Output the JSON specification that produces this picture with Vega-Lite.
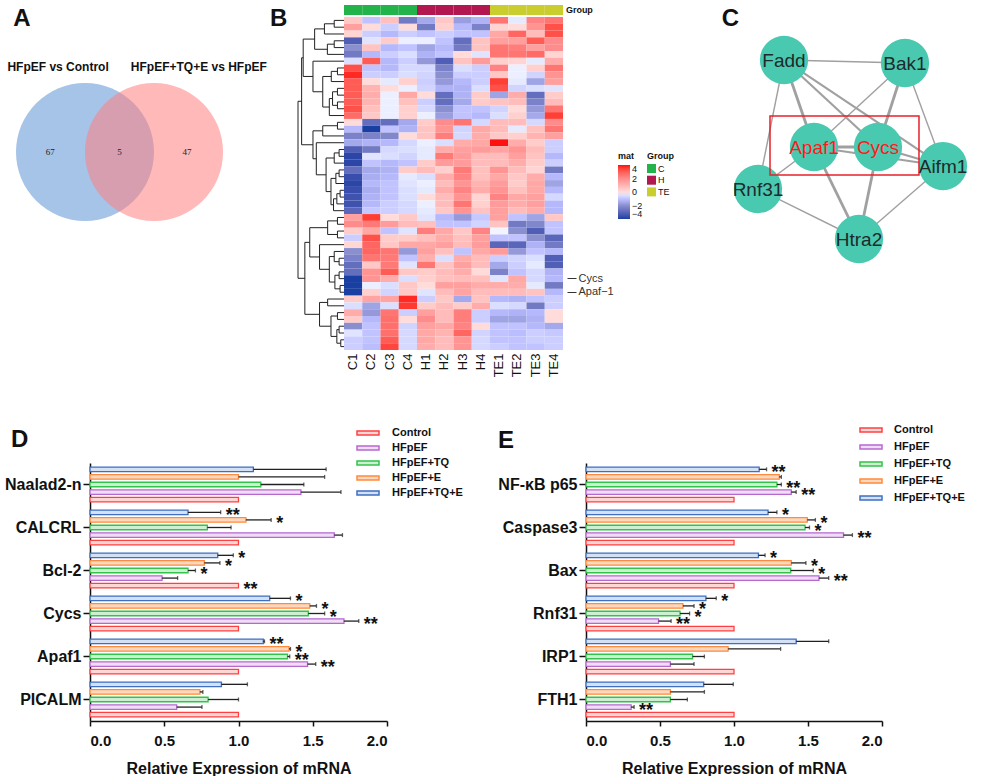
{
"$schema":"https://vega.github.io/schema/vega-lite/v6.json",
"background":"white",
"padding":{"left":4,"top":5,"right":0,"bottom":0},
"config":{"view":{"stroke":null},"font":"Liberation Sans","axis":{"labelFont":"Liberation Sans","titleFont":"Liberation Sans","grid":false},"legend":{"labelFont":"Liberation Sans","titleFont":"Liberation Sans"},"text":{"font":"Liberation Sans"},"title":{"font":"Liberation Sans"}},
"datasets":{
"hm":[
{"r":1,"c":"C1","v":0.5},{"r":1,"c":"C2","v":-1},{"r":1,"c":"C3","v":0.7},{"r":1,"c":"C4","v":-2.5},{"r":1,"c":"H1","v":-1.5},{"r":1,"c":"H2","v":0.5},{"r":1,"c":"H3","v":-1.7},{"r":1,"c":"H4","v":-1.3},{"r":1,"c":"TE1","v":2.5},{"r":1,"c":"TE2","v":-0.3},{"r":1,"c":"TE3","v":2.2},{"r":1,"c":"TE4","v":2.5},
{"r":2,"c":"C1","v":1.5},{"r":2,"c":"C2","v":0},{"r":2,"c":"C3","v":-0.8},{"r":2,"c":"C4","v":0},{"r":2,"c":"H1","v":-2.5},{"r":2,"c":"H2","v":0.3},{"r":2,"c":"H3","v":-1.2},{"r":2,"c":"H4","v":-2.3},{"r":2,"c":"TE1","v":0.2},{"r":2,"c":"TE2","v":0},{"r":2,"c":"TE3","v":1.8},{"r":2,"c":"TE4","v":3.2},
{"r":3,"c":"C1","v":0.2},{"r":3,"c":"C2","v":-0.8},{"r":3,"c":"C3","v":-1.2},{"r":3,"c":"C4","v":-0.8},{"r":3,"c":"H1","v":-1},{"r":3,"c":"H2","v":-0.8},{"r":3,"c":"H3","v":-1},{"r":3,"c":"H4","v":-1},{"r":3,"c":"TE1","v":1.3},{"r":3,"c":"TE2","v":2.8},{"r":3,"c":"TE3","v":0.8},{"r":3,"c":"TE4","v":3.2},
{"r":4,"c":"C1","v":-3.2},{"r":4,"c":"C2","v":-0.4},{"r":4,"c":"C3","v":0.4},{"r":4,"c":"C4","v":-0.2},{"r":4,"c":"H1","v":-0.2},{"r":4,"c":"H2","v":-1},{"r":4,"c":"H3","v":-2.8},{"r":4,"c":"H4","v":0.6},{"r":4,"c":"TE1","v":1.5},{"r":4,"c":"TE2","v":1.5},{"r":4,"c":"TE3","v":3},{"r":4,"c":"TE4","v":2},
{"r":5,"c":"C1","v":-2},{"r":5,"c":"C2","v":0.6},{"r":5,"c":"C3","v":-1.2},{"r":5,"c":"C4","v":-1},{"r":5,"c":"H1","v":-1.6},{"r":5,"c":"H2","v":-1.2},{"r":5,"c":"H3","v":-2.5},{"r":5,"c":"H4","v":0.6},{"r":5,"c":"TE1","v":2.5},{"r":5,"c":"TE2","v":2.3},{"r":5,"c":"TE3","v":1.5},{"r":5,"c":"TE4","v":2},
{"r":6,"c":"C1","v":-2.5},{"r":6,"c":"C2","v":-1.2},{"r":6,"c":"C3","v":-0.8},{"r":6,"c":"C4","v":-0.5},{"r":6,"c":"H1","v":-1.3},{"r":6,"c":"H2","v":-1},{"r":6,"c":"H3","v":0},{"r":6,"c":"H4","v":-0.4},{"r":6,"c":"TE1","v":2.5},{"r":6,"c":"TE2","v":2.5},{"r":6,"c":"TE3","v":2.7},{"r":6,"c":"TE4","v":0.2},
{"r":7,"c":"C1","v":-0.5},{"r":7,"c":"C2","v":3},{"r":7,"c":"C3","v":-1.2},{"r":7,"c":"C4","v":-0.8},{"r":7,"c":"H1","v":-1.8},{"r":7,"c":"H2","v":-3.2},{"r":7,"c":"H3","v":0.6},{"r":7,"c":"H4","v":1.6},{"r":7,"c":"TE1","v":0.3},{"r":7,"c":"TE2","v":0.2},{"r":7,"c":"TE3","v":-0.3},{"r":7,"c":"TE4","v":1.2},
{"r":8,"c":"C1","v":3.2},{"r":8,"c":"C2","v":-1},{"r":8,"c":"C3","v":-1.2},{"r":8,"c":"C4","v":-0.6},{"r":8,"c":"H1","v":-0.6},{"r":8,"c":"H2","v":-2.3},{"r":8,"c":"H3","v":-0.5},{"r":8,"c":"H4","v":-0.8},{"r":8,"c":"TE1","v":2.2},{"r":8,"c":"TE2","v":-0.2},{"r":8,"c":"TE3","v":0.3},{"r":8,"c":"TE4","v":2.5},
{"r":9,"c":"C1","v":3.8},{"r":9,"c":"C2","v":-0.8},{"r":9,"c":"C3","v":-0.8},{"r":9,"c":"C4","v":-0.5},{"r":9,"c":"H1","v":-0.7},{"r":9,"c":"H2","v":-2},{"r":9,"c":"H3","v":-0.8},{"r":9,"c":"H4","v":-0.8},{"r":9,"c":"TE1","v":0.5},{"r":9,"c":"TE2","v":-0.2},{"r":9,"c":"TE3","v":-0.7},{"r":9,"c":"TE4","v":1.8},
{"r":10,"c":"C1","v":3},{"r":10,"c":"C2","v":0},{"r":10,"c":"C3","v":-0.3},{"r":10,"c":"C4","v":0.3},{"r":10,"c":"H1","v":-0.8},{"r":10,"c":"H2","v":-1.8},{"r":10,"c":"H3","v":-1.2},{"r":10,"c":"H4","v":-0.8},{"r":10,"c":"TE1","v":3.5},{"r":10,"c":"TE2","v":-0.3},{"r":10,"c":"TE3","v":-1.6},{"r":10,"c":"TE4","v":1.5},
{"r":11,"c":"C1","v":3},{"r":11,"c":"C2","v":1},{"r":11,"c":"C3","v":0},{"r":11,"c":"C4","v":-0.2},{"r":11,"c":"H1","v":-0.7},{"r":11,"c":"H2","v":-1.3},{"r":11,"c":"H3","v":-1.3},{"r":11,"c":"H4","v":-0.5},{"r":11,"c":"TE1","v":3.2},{"r":11,"c":"TE2","v":-0.7},{"r":11,"c":"TE3","v":-0.5},{"r":11,"c":"TE4","v":-0.4},
{"r":12,"c":"C1","v":3},{"r":12,"c":"C2","v":1.2},{"r":12,"c":"C3","v":-0.2},{"r":12,"c":"C4","v":1.3},{"r":12,"c":"H1","v":0},{"r":12,"c":"H2","v":-2.8},{"r":12,"c":"H3","v":-1.3},{"r":12,"c":"H4","v":0.4},{"r":12,"c":"TE1","v":-1.6},{"r":12,"c":"TE2","v":1.2},{"r":12,"c":"TE3","v":-2.8},{"r":12,"c":"TE4","v":0.4},
{"r":13,"c":"C1","v":3},{"r":13,"c":"C2","v":1},{"r":13,"c":"C3","v":-0.2},{"r":13,"c":"C4","v":0.7},{"r":13,"c":"H1","v":-0.8},{"r":13,"c":"H2","v":-2.8},{"r":13,"c":"H3","v":-1.5},{"r":13,"c":"H4","v":0.4},{"r":13,"c":"TE1","v":0.6},{"r":13,"c":"TE2","v":0.8},{"r":13,"c":"TE3","v":-2.3},{"r":13,"c":"TE4","v":0.8},
{"r":14,"c":"C1","v":3.2},{"r":14,"c":"C2","v":0.7},{"r":14,"c":"C3","v":-0.2},{"r":14,"c":"C4","v":0.3},{"r":14,"c":"H1","v":-0.6},{"r":14,"c":"H2","v":-2},{"r":14,"c":"H3","v":-1},{"r":14,"c":"H4","v":-1},{"r":14,"c":"TE1","v":-0.7},{"r":14,"c":"TE2","v":0},{"r":14,"c":"TE3","v":-1.8},{"r":14,"c":"TE4","v":2.5},
{"r":15,"c":"C1","v":2.7},{"r":15,"c":"C2","v":0.5},{"r":15,"c":"C3","v":-0.2},{"r":15,"c":"C4","v":0.3},{"r":15,"c":"H1","v":-0.2},{"r":15,"c":"H2","v":-1.7},{"r":15,"c":"H3","v":-1},{"r":15,"c":"H4","v":-1.2},{"r":15,"c":"TE1","v":-0.5},{"r":15,"c":"TE2","v":0.3},{"r":15,"c":"TE3","v":-1.5},{"r":15,"c":"TE4","v":3.5},
{"r":16,"c":"C1","v":0},{"r":16,"c":"C2","v":-2.8},{"r":16,"c":"C3","v":-2.8},{"r":16,"c":"C4","v":-1.5},{"r":16,"c":"H1","v":0.4},{"r":16,"c":"H2","v":2},{"r":16,"c":"H3","v":2.5},{"r":16,"c":"H4","v":-0.6},{"r":16,"c":"TE1","v":0.8},{"r":16,"c":"TE2","v":0.8},{"r":16,"c":"TE3","v":-0.6},{"r":16,"c":"TE4","v":2},
{"r":17,"c":"C1","v":-1.2},{"r":17,"c":"C2","v":-4},{"r":17,"c":"C3","v":-1},{"r":17,"c":"C4","v":-1.3},{"r":17,"c":"H1","v":0.6},{"r":17,"c":"H2","v":1.8},{"r":17,"c":"H3","v":-0.7},{"r":17,"c":"H4","v":1.3},{"r":17,"c":"TE1","v":0.8},{"r":17,"c":"TE2","v":-0.3},{"r":17,"c":"TE3","v":0.7},{"r":17,"c":"TE4","v":2.5},
{"r":18,"c":"C1","v":-2.3},{"r":18,"c":"C2","v":-2.3},{"r":18,"c":"C3","v":-2.2},{"r":18,"c":"C4","v":0},{"r":18,"c":"H1","v":0.6},{"r":18,"c":"H2","v":2.3},{"r":18,"c":"H3","v":-0.6},{"r":18,"c":"H4","v":1.2},{"r":18,"c":"TE1","v":0.5},{"r":18,"c":"TE2","v":0.3},{"r":18,"c":"TE3","v":1},{"r":18,"c":"TE4","v":1.5},
{"r":19,"c":"C1","v":-1.5},{"r":19,"c":"C2","v":-1.3},{"r":19,"c":"C3","v":-1.2},{"r":19,"c":"C4","v":-0.6},{"r":19,"c":"H1","v":-0.2},{"r":19,"c":"H2","v":-0.5},{"r":19,"c":"H3","v":1.2},{"r":19,"c":"H4","v":1.3},{"r":19,"c":"TE1","v":4},{"r":19,"c":"TE2","v":1.2},{"r":19,"c":"TE3","v":0.4},{"r":19,"c":"TE4","v":-0.8},
{"r":20,"c":"C1","v":-3.2},{"r":20,"c":"C2","v":-2.5},{"r":20,"c":"C3","v":-0.6},{"r":20,"c":"C4","v":-0.5},{"r":20,"c":"H1","v":-0.3},{"r":20,"c":"H2","v":1.2},{"r":20,"c":"H3","v":1.5},{"r":20,"c":"H4","v":1.6},{"r":20,"c":"TE1","v":1.4},{"r":20,"c":"TE2","v":1.8},{"r":20,"c":"TE3","v":0.8},{"r":20,"c":"TE4","v":-0.8},
{"r":21,"c":"C1","v":-3.8},{"r":21,"c":"C2","v":-0.4},{"r":21,"c":"C3","v":-0.5},{"r":21,"c":"C4","v":-0.7},{"r":21,"c":"H1","v":-0.3},{"r":21,"c":"H2","v":2.4},{"r":21,"c":"H3","v":1.6},{"r":21,"c":"H4","v":0.8},{"r":21,"c":"TE1","v":0.8},{"r":21,"c":"TE2","v":1.5},{"r":21,"c":"TE3","v":0.6},{"r":21,"c":"TE4","v":-1.2},
{"r":22,"c":"C1","v":-3.8},{"r":22,"c":"C2","v":-1},{"r":22,"c":"C3","v":-1.2},{"r":22,"c":"C4","v":-1},{"r":22,"c":"H1","v":0.4},{"r":22,"c":"H2","v":1.6},{"r":22,"c":"H3","v":1.6},{"r":22,"c":"H4","v":0.8},{"r":22,"c":"TE1","v":0.8},{"r":22,"c":"TE2","v":1.2},{"r":22,"c":"TE3","v":0.4},{"r":22,"c":"TE4","v":-0.8},
{"r":23,"c":"C1","v":-2.8},{"r":23,"c":"C2","v":-1.5},{"r":23,"c":"C3","v":-1.3},{"r":23,"c":"C4","v":0.4},{"r":23,"c":"H1","v":0.8},{"r":23,"c":"H2","v":0.3},{"r":23,"c":"H3","v":2.4},{"r":23,"c":"H4","v":0.7},{"r":23,"c":"TE1","v":1.8},{"r":23,"c":"TE2","v":0.8},{"r":23,"c":"TE3","v":0.2},{"r":23,"c":"TE4","v":-2.5},
{"r":24,"c":"C1","v":-3.6},{"r":24,"c":"C2","v":-1.4},{"r":24,"c":"C3","v":-1.2},{"r":24,"c":"C4","v":-0.3},{"r":24,"c":"H1","v":-0.5},{"r":24,"c":"H2","v":1.2},{"r":24,"c":"H3","v":2.2},{"r":24,"c":"H4","v":0.7},{"r":24,"c":"TE1","v":1.3},{"r":24,"c":"TE2","v":0.5},{"r":24,"c":"TE3","v":1.2},{"r":24,"c":"TE4","v":-1.2},
{"r":25,"c":"C1","v":-3.8},{"r":25,"c":"C2","v":-1.2},{"r":25,"c":"C3","v":-1},{"r":25,"c":"C4","v":-0.4},{"r":25,"c":"H1","v":-0.2},{"r":25,"c":"H2","v":0.8},{"r":25,"c":"H3","v":1.8},{"r":25,"c":"H4","v":1},{"r":25,"c":"TE1","v":1.6},{"r":25,"c":"TE2","v":0.4},{"r":25,"c":"TE3","v":1.3},{"r":25,"c":"TE4","v":-1.6},
{"r":26,"c":"C1","v":-3.6},{"r":26,"c":"C2","v":-1.4},{"r":26,"c":"C3","v":-1},{"r":26,"c":"C4","v":-0.5},{"r":26,"c":"H1","v":-0.3},{"r":26,"c":"H2","v":1.2},{"r":26,"c":"H3","v":2.2},{"r":26,"c":"H4","v":1.2},{"r":26,"c":"TE1","v":1.8},{"r":26,"c":"TE2","v":0.7},{"r":26,"c":"TE3","v":1.3},{"r":26,"c":"TE4","v":-1.2},
{"r":27,"c":"C1","v":-3.5},{"r":27,"c":"C2","v":-1.3},{"r":27,"c":"C3","v":-1},{"r":27,"c":"C4","v":-0.5},{"r":27,"c":"H1","v":0},{"r":27,"c":"H2","v":0.8},{"r":27,"c":"H3","v":1.8},{"r":27,"c":"H4","v":0.2},{"r":27,"c":"TE1","v":2.2},{"r":27,"c":"TE2","v":1.3},{"r":27,"c":"TE3","v":1.5},{"r":27,"c":"TE4","v":-0.6},
{"r":28,"c":"C1","v":-3.5},{"r":28,"c":"C2","v":-1.2},{"r":28,"c":"C3","v":-0.8},{"r":28,"c":"C4","v":-0.6},{"r":28,"c":"H1","v":-0.2},{"r":28,"c":"H2","v":0.8},{"r":28,"c":"H3","v":2.5},{"r":28,"c":"H4","v":0.3},{"r":28,"c":"TE1","v":1.6},{"r":28,"c":"TE2","v":1.2},{"r":28,"c":"TE3","v":1.5},{"r":28,"c":"TE4","v":-1.2},
{"r":29,"c":"C1","v":-3},{"r":29,"c":"C2","v":-0.9},{"r":29,"c":"C3","v":-0.8},{"r":29,"c":"C4","v":-0.6},{"r":29,"c":"H1","v":-0.3},{"r":29,"c":"H2","v":0.5},{"r":29,"c":"H3","v":1.8},{"r":29,"c":"H4","v":0.6},{"r":29,"c":"TE1","v":1.5},{"r":29,"c":"TE2","v":0.8},{"r":29,"c":"TE3","v":1.2},{"r":29,"c":"TE4","v":-1.2},
{"r":30,"c":"C1","v":1.5},{"r":30,"c":"C2","v":3.5},{"r":30,"c":"C3","v":0},{"r":30,"c":"C4","v":0.5},{"r":30,"c":"H1","v":-0.4},{"r":30,"c":"H2","v":-1.2},{"r":30,"c":"H3","v":-1.8},{"r":30,"c":"H4","v":-0.9},{"r":30,"c":"TE1","v":1.5},{"r":30,"c":"TE2","v":-1},{"r":30,"c":"TE3","v":-1.6},{"r":30,"c":"TE4","v":0.5},
{"r":31,"c":"C1","v":2},{"r":31,"c":"C2","v":2.4},{"r":31,"c":"C3","v":1.6},{"r":31,"c":"C4","v":0.8},{"r":31,"c":"H1","v":0.7},{"r":31,"c":"H2","v":-1},{"r":31,"c":"H3","v":-1},{"r":31,"c":"H4","v":-0.7},{"r":31,"c":"TE1","v":0.6},{"r":31,"c":"TE2","v":-2.5},{"r":31,"c":"TE3","v":-2.2},{"r":31,"c":"TE4","v":-1},
{"r":32,"c":"C1","v":0.4},{"r":32,"c":"C2","v":1.3},{"r":32,"c":"C3","v":-1},{"r":32,"c":"C4","v":-0.4},{"r":32,"c":"H1","v":2.3},{"r":32,"c":"H2","v":1.3},{"r":32,"c":"H3","v":0.5},{"r":32,"c":"H4","v":2.2},{"r":32,"c":"TE1","v":-0.1},{"r":32,"c":"TE2","v":-2},{"r":32,"c":"TE3","v":-3.2},{"r":32,"c":"TE4","v":-1},
{"r":33,"c":"C1","v":-0.8},{"r":33,"c":"C2","v":3.2},{"r":33,"c":"C3","v":0.4},{"r":33,"c":"C4","v":0.4},{"r":33,"c":"H1","v":0.7},{"r":33,"c":"H2","v":1.2},{"r":33,"c":"H3","v":0.7},{"r":33,"c":"H4","v":1.5},{"r":33,"c":"TE1","v":-1},{"r":33,"c":"TE2","v":-1},{"r":33,"c":"TE3","v":-2},{"r":33,"c":"TE4","v":-3},
{"r":34,"c":"C1","v":0.1},{"r":34,"c":"C2","v":2.8},{"r":34,"c":"C3","v":0.5},{"r":34,"c":"C4","v":1.3},{"r":34,"c":"H1","v":1.3},{"r":34,"c":"H2","v":1.5},{"r":34,"c":"H3","v":0.8},{"r":34,"c":"H4","v":1.6},{"r":34,"c":"TE1","v":-3},{"r":34,"c":"TE2","v":-3},{"r":34,"c":"TE3","v":-1.3},{"r":34,"c":"TE4","v":-2.5},
{"r":35,"c":"C1","v":-2},{"r":35,"c":"C2","v":2.8},{"r":35,"c":"C3","v":2.5},{"r":35,"c":"C4","v":-1.8},{"r":35,"c":"H1","v":1.5},{"r":35,"c":"H2","v":0.7},{"r":35,"c":"H3","v":-1},{"r":35,"c":"H4","v":1.3},{"r":35,"c":"TE1","v":1.6},{"r":35,"c":"TE2","v":-1.8},{"r":35,"c":"TE3","v":-1},{"r":35,"c":"TE4","v":-1.2},
{"r":36,"c":"C1","v":-2.3},{"r":36,"c":"C2","v":2.5},{"r":36,"c":"C3","v":2.4},{"r":36,"c":"C4","v":-1},{"r":36,"c":"H1","v":1.1},{"r":36,"c":"H2","v":-0.5},{"r":36,"c":"H3","v":1.2},{"r":36,"c":"H4","v":0.8},{"r":36,"c":"TE1","v":-0.8},{"r":36,"c":"TE2","v":-0.7},{"r":36,"c":"TE3","v":-0.5},{"r":36,"c":"TE4","v":-3.2},
{"r":37,"c":"C1","v":-2.8},{"r":37,"c":"C2","v":0.5},{"r":37,"c":"C3","v":2.4},{"r":37,"c":"C4","v":-0.4},{"r":37,"c":"H1","v":2.5},{"r":37,"c":"H2","v":0.6},{"r":37,"c":"H3","v":1.5},{"r":37,"c":"H4","v":0.8},{"r":37,"c":"TE1","v":-1.5},{"r":37,"c":"TE2","v":-0.8},{"r":37,"c":"TE3","v":-0.3},{"r":37,"c":"TE4","v":-3.2},
{"r":38,"c":"C1","v":-2.8},{"r":38,"c":"C2","v":1.8},{"r":38,"c":"C3","v":3},{"r":38,"c":"C4","v":0.5},{"r":38,"c":"H1","v":0.4},{"r":38,"c":"H2","v":0.8},{"r":38,"c":"H3","v":1.2},{"r":38,"c":"H4","v":0},{"r":38,"c":"TE1","v":-2.3},{"r":38,"c":"TE2","v":-1},{"r":38,"c":"TE3","v":-0.6},{"r":38,"c":"TE4","v":-1.3},
{"r":39,"c":"C1","v":-4},{"r":39,"c":"C2","v":1.8},{"r":39,"c":"C3","v":1.2},{"r":39,"c":"C4","v":-0.5},{"r":39,"c":"H1","v":0.3},{"r":39,"c":"H2","v":0.7},{"r":39,"c":"H3","v":0.8},{"r":39,"c":"H4","v":0.7},{"r":39,"c":"TE1","v":-0.4},{"r":39,"c":"TE2","v":1.3},{"r":39,"c":"TE3","v":-0.6},{"r":39,"c":"TE4","v":-1.2},
{"r":40,"c":"C1","v":-4},{"r":40,"c":"C2","v":-0.2},{"r":40,"c":"C3","v":-0.5},{"r":40,"c":"C4","v":0.5},{"r":40,"c":"H1","v":0},{"r":40,"c":"H2","v":1.5},{"r":40,"c":"H3","v":1.5},{"r":40,"c":"H4","v":1.2},{"r":40,"c":"TE1","v":1.2},{"r":40,"c":"TE2","v":1.2},{"r":40,"c":"TE3","v":-0.3},{"r":40,"c":"TE4","v":-2.5},
{"r":41,"c":"C1","v":-4},{"r":41,"c":"C2","v":0.3},{"r":41,"c":"C3","v":-0.7},{"r":41,"c":"C4","v":0.5},{"r":41,"c":"H1","v":-0.4},{"r":41,"c":"H2","v":0.8},{"r":41,"c":"H3","v":1.4},{"r":41,"c":"H4","v":0.8},{"r":41,"c":"TE1","v":0.8},{"r":41,"c":"TE2","v":0.8},{"r":41,"c":"TE3","v":0.6},{"r":41,"c":"TE4","v":-1.2},
{"r":42,"c":"C1","v":0.4},{"r":42,"c":"C2","v":1.4},{"r":42,"c":"C3","v":1.4},{"r":42,"c":"C4","v":3.8},{"r":42,"c":"H1","v":-0.8},{"r":42,"c":"H2","v":0.5},{"r":42,"c":"H3","v":-1.5},{"r":42,"c":"H4","v":0.6},{"r":42,"c":"TE1","v":-1.2},{"r":42,"c":"TE2","v":-1.3},{"r":42,"c":"TE3","v":-1},{"r":42,"c":"TE4","v":-0.8},
{"r":43,"c":"C1","v":-0.5},{"r":43,"c":"C2","v":-1.6},{"r":43,"c":"C3","v":-0.5},{"r":43,"c":"C4","v":3.6},{"r":43,"c":"H1","v":0.4},{"r":43,"c":"H2","v":0.8},{"r":43,"c":"H3","v":0.4},{"r":43,"c":"H4","v":1.2},{"r":43,"c":"TE1","v":-0.5},{"r":43,"c":"TE2","v":-0.6},{"r":43,"c":"TE3","v":-2.5},{"r":43,"c":"TE4","v":-0.8},
{"r":44,"c":"C1","v":1.2},{"r":44,"c":"C2","v":-1.8},{"r":44,"c":"C3","v":2.5},{"r":44,"c":"C4","v":-0.8},{"r":44,"c":"H1","v":1.5},{"r":44,"c":"H2","v":0.8},{"r":44,"c":"H3","v":2.3},{"r":44,"c":"H4","v":-0.8},{"r":44,"c":"TE1","v":-1.2},{"r":44,"c":"TE2","v":-1.3},{"r":44,"c":"TE3","v":-1.2},{"r":44,"c":"TE4","v":0},
{"r":45,"c":"C1","v":0.4},{"r":45,"c":"C2","v":-1.2},{"r":45,"c":"C3","v":2.6},{"r":45,"c":"C4","v":0},{"r":45,"c":"H1","v":2},{"r":45,"c":"H2","v":0.8},{"r":45,"c":"H3","v":2.3},{"r":45,"c":"H4","v":-0.8},{"r":45,"c":"TE1","v":-1.6},{"r":45,"c":"TE2","v":-1.6},{"r":45,"c":"TE3","v":-1.3},{"r":45,"c":"TE4","v":0},
{"r":46,"c":"C1","v":-2},{"r":46,"c":"C2","v":-1},{"r":46,"c":"C3","v":2.6},{"r":46,"c":"C4","v":-0.7},{"r":46,"c":"H1","v":1.5},{"r":46,"c":"H2","v":1.3},{"r":46,"c":"H3","v":2.2},{"r":46,"c":"H4","v":0},{"r":46,"c":"TE1","v":-1},{"r":46,"c":"TE2","v":-1},{"r":46,"c":"TE3","v":-1.2},{"r":46,"c":"TE4","v":-1.5},
{"r":47,"c":"C1","v":-0.4},{"r":47,"c":"C2","v":-1},{"r":47,"c":"C3","v":2.6},{"r":47,"c":"C4","v":-0.6},{"r":47,"c":"H1","v":1.3},{"r":47,"c":"H2","v":1},{"r":47,"c":"H3","v":2.8},{"r":47,"c":"H4","v":-0.7},{"r":47,"c":"TE1","v":-1},{"r":47,"c":"TE2","v":-1.1},{"r":47,"c":"TE3","v":-0.8},{"r":47,"c":"TE4","v":-0.9},
{"r":48,"c":"C1","v":-0.8},{"r":48,"c":"C2","v":-1},{"r":48,"c":"C3","v":3},{"r":48,"c":"C4","v":-0.6},{"r":48,"c":"H1","v":1.3},{"r":48,"c":"H2","v":0.8},{"r":48,"c":"H3","v":1.8},{"r":48,"c":"H4","v":-0.6},{"r":48,"c":"TE1","v":-1},{"r":48,"c":"TE2","v":-1},{"r":48,"c":"TE3","v":-0.8},{"r":48,"c":"TE4","v":-0.8},
{"r":49,"c":"C1","v":-0.8},{"r":49,"c":"C2","v":-1.1},{"r":49,"c":"C3","v":3.4},{"r":49,"c":"C4","v":-0.6},{"r":49,"c":"H1","v":1.2},{"r":49,"c":"H2","v":0.8},{"r":49,"c":"H3","v":1.8},{"r":49,"c":"H4","v":-0.6},{"r":49,"c":"TE1","v":-0.8},{"r":49,"c":"TE2","v":-1},{"r":49,"c":"TE3","v":-1},{"r":49,"c":"TE4","v":-0.8}
],
"grp":[{"c":"C1","g":"C"},{"c":"C2","g":"C"},{"c":"C3","g":"C"},{"c":"C4","g":"C"},{"c":"H1","g":"H"},{"c":"H2","g":"H"},{"c":"H3","g":"H"},{"c":"H4","g":"H"},{"c":"TE1","g":"TE"},{"c":"TE2","g":"TE"},{"c":"TE3","g":"TE"},{"c":"TE4","g":"TE"}],
"dendro":[
{"ya":1,"ha":0,"yb":2,"hb":0,"h":10},{"ya":1.5,"ha":10,"yb":3,"hb":0,"h":20},{"ya":4,"ha":0,"yb":5,"hb":0,"h":10},{"ya":4.5,"ha":10,"yb":6,"hb":0,"h":17},{"ya":2.25,"ha":20,"yb":5.25,"hb":17,"h":30},
{"ya":8,"ha":0,"yb":9,"hb":0,"h":6.7},{"ya":8.5,"ha":6.7,"yb":10,"hb":0,"h":13},{"ya":11,"ha":0,"yb":12,"hb":0,"h":6.7},{"ya":13,"ha":0,"yb":14,"hb":0,"h":6.7},{"ya":11.5,"ha":6.7,"yb":13.5,"hb":6.7,"h":11.7},
{"ya":12.5,"ha":11.7,"yb":15,"hb":0,"h":15},{"ya":9.25,"ha":13,"yb":13.75,"hb":15,"h":21.7},{"ya":7,"ha":0,"yb":11.5,"hb":21.7,"h":31.7},{"ya":3.75,"ha":30,"yb":9.25,"hb":31.7,"h":41.7},
{"ya":16,"ha":0,"yb":17,"hb":0,"h":6.7},{"ya":16.5,"ha":6.7,"yb":18,"hb":0,"h":21.7},{"ya":20,"ha":0,"yb":21,"hb":0,"h":5},{"ya":20.5,"ha":5,"yb":22,"hb":0,"h":10},{"ya":23,"ha":0,"yb":24,"hb":0,"h":5},
{"ya":23.5,"ha":5,"yb":25,"hb":0,"h":8.3},{"ya":26,"ha":0,"yb":27,"hb":0,"h":4},{"ya":26.5,"ha":4,"yb":28,"hb":0,"h":7.3},{"ya":27.25,"ha":7.3,"yb":29,"hb":0,"h":10.7},{"ya":24.25,"ha":8.3,"yb":28.125,"hb":10.7,"h":13.3},
{"ya":21.25,"ha":10,"yb":26.19,"hb":13.3,"h":18.3},{"ya":19,"ha":0,"yb":23.72,"hb":18.3,"h":28.3},{"ya":17.25,"ha":21.7,"yb":21.36,"hb":28.3,"h":31.7},{"ya":6.5,"ha":41.7,"yb":19.3,"hb":31.7,"h":43.3},
{"ya":30,"ha":0,"yb":31,"hb":0,"h":6.7},{"ya":32,"ha":0,"yb":33,"hb":0,"h":6.7},{"ya":30.5,"ha":6.7,"yb":32.5,"hb":6.7,"h":16.7},{"ya":36,"ha":0,"yb":37,"hb":0,"h":5},{"ya":35,"ha":0,"yb":36.5,"hb":5,"h":10},
{"ya":38,"ha":0,"yb":39,"hb":0,"h":5},{"ya":40,"ha":0,"yb":41,"hb":0,"h":4},{"ya":38.5,"ha":5,"yb":40.5,"hb":4,"h":9.3},{"ya":35.75,"ha":10,"yb":39.5,"hb":9.3,"h":15},{"ya":34,"ha":0,"yb":37.625,"hb":15,"h":25},
{"ya":31.5,"ha":16.7,"yb":35.81,"hb":25,"h":35},{"ya":42,"ha":0,"yb":43,"hb":0,"h":16.7},{"ya":44,"ha":0,"yb":45,"hb":0,"h":6.7},{"ya":46,"ha":0,"yb":47,"hb":0,"h":5},{"ya":48,"ha":0,"yb":49,"hb":0,"h":3.3},
{"ya":46.5,"ha":5,"yb":48.5,"hb":3.3,"h":7.3},{"ya":44.5,"ha":6.7,"yb":47.5,"hb":7.3,"h":13.3},{"ya":42.5,"ha":16.7,"yb":46,"hb":13.3,"h":25},{"ya":33.66,"ha":35,"yb":44.25,"hb":25,"h":40},{"ya":12.9,"ha":43.3,"yb":38.95,"hb":40,"h":47}
],
"vennc":[{"set":"HFpEF vs Control","cx":-1,"cy":0},{"set":"HFpEF+TQ+E vs HFpEF","cx":1,"cy":0}],
"vennt":[{"t":"HFpEF vs Control","x":-1.78,"y":2.46},{"t":"HFpEF+TQ+E vs HFpEF","x":2.3,"y":2.46}],
"vennn":[{"n":"67","x":-2.01,"y":0},{"n":"5","x":0,"y":0},{"n":"47","x":1.96,"y":0}],
"letters":[{"t":"A","x":-2.83,"y":3.86},{"t":"B","x":4.61,"y":3.86}],
"nodes":[{"name":"Fadd","x":5.154,"y":1.833,"hub":false},{"name":"Bak1","x":8.256,"y":1.933,"hub":false},{"name":"Apaf1","x":5.923,"y":4.733,"hub":true},{"name":"Cycs","x":7.564,"y":4.733,"hub":true},{"name":"Aifm1","x":9.231,"y":5.367,"hub":false},{"name":"Rnf31","x":4.487,"y":6.133,"hub":false},{"name":"Htra2","x":7.077,"y":7.8,"hub":false}],
"edges":[
{"a":"Fadd","b":"Bak1","x1":5.154,"y1":1.833,"x2":8.256,"y2":1.933,"n":1},
{"a":"Fadd","b":"Rnf31","x1":5.154,"y1":1.833,"x2":4.487,"y2":6.133,"n":1},
{"a":"Fadd","b":"Apaf1","x1":5.154,"y1":1.833,"x2":5.923,"y2":4.733,"n":3},
{"a":"Fadd","b":"Cycs","x1":5.154,"y1":1.833,"x2":7.564,"y2":4.733,"n":2},
{"a":"Fadd","b":"Aifm1","x1":5.154,"y1":1.833,"x2":9.231,"y2":5.367,"n":2},
{"a":"Bak1","b":"Apaf1","x1":8.256,"y1":1.933,"x2":5.923,"y2":4.733,"n":1},
{"a":"Bak1","b":"Cycs","x1":8.256,"y1":1.933,"x2":7.564,"y2":4.733,"n":3},
{"a":"Bak1","b":"Aifm1","x1":8.256,"y1":1.933,"x2":9.231,"y2":5.367,"n":1},
{"a":"Apaf1","b":"Cycs","x1":5.923,"y1":4.733,"x2":7.564,"y2":4.733,"n":3},
{"a":"Apaf1","b":"Aifm1","x1":5.923,"y1":4.733,"x2":9.231,"y2":5.367,"n":2},
{"a":"Apaf1","b":"Rnf31","x1":5.923,"y1":4.733,"x2":4.487,"y2":6.133,"n":1},
{"a":"Apaf1","b":"Htra2","x1":5.923,"y1":4.733,"x2":7.077,"y2":7.8,"n":3},
{"a":"Cycs","b":"Htra2","x1":7.564,"y1":4.733,"x2":7.077,"y2":7.8,"n":3},
{"a":"Cycs","b":"Aifm1","x1":7.564,"y1":4.733,"x2":9.231,"y2":5.367,"n":2},
{"a":"Rnf31","b":"Htra2","x1":4.487,"y1":6.133,"x2":7.077,"y2":7.8,"n":1},
{"a":"Aifm1","b":"Htra2","x1":9.231,"y1":5.367,"x2":7.077,"y2":7.8,"n":1}
],
"box":[{"x1":4.795,"x2":8.615,"y1":3.7,"y2":5.667}],
"cl":[{"t":"C","x":3.78,"y":0.47}],
"bd":[
{"gene":"Naalad2-n","grp":"Control","v":1.0,"hi":1.0,"sig":""},{"gene":"Naalad2-n","grp":"HFpEF","v":1.42,"hi":1.69,"sig":""},{"gene":"Naalad2-n","grp":"HFpEF+TQ","v":1.15,"hi":1.44,"sig":""},{"gene":"Naalad2-n","grp":"HFpEF+E","v":1.0,"hi":1.58,"sig":""},{"gene":"Naalad2-n","grp":"HFpEF+TQ+E","v":1.1,"hi":1.59,"sig":""},
{"gene":"CALCRL","grp":"Control","v":1.0,"hi":1.0,"sig":""},{"gene":"CALCRL","grp":"HFpEF","v":1.645,"hi":1.7,"sig":""},{"gene":"CALCRL","grp":"HFpEF+TQ","v":0.79,"hi":0.95,"sig":""},{"gene":"CALCRL","grp":"HFpEF+E","v":1.05,"hi":1.22,"sig":"*"},{"gene":"CALCRL","grp":"HFpEF+TQ+E","v":0.66,"hi":0.88,"sig":"**"},
{"gene":"Bcl-2","grp":"Control","v":1.0,"hi":1.0,"sig":"**"},{"gene":"Bcl-2","grp":"HFpEF","v":0.485,"hi":0.59,"sig":""},{"gene":"Bcl-2","grp":"HFpEF+TQ","v":0.66,"hi":0.71,"sig":"*"},{"gene":"Bcl-2","grp":"HFpEF+E","v":0.77,"hi":0.875,"sig":"*"},{"gene":"Bcl-2","grp":"HFpEF+TQ+E","v":0.86,"hi":0.965,"sig":"*"},
{"gene":"Cycs","grp":"Control","v":1.0,"hi":1.0,"sig":""},{"gene":"Cycs","grp":"HFpEF","v":1.71,"hi":1.81,"sig":"**"},{"gene":"Cycs","grp":"HFpEF+TQ","v":1.47,"hi":1.58,"sig":"*"},{"gene":"Cycs","grp":"HFpEF+E","v":1.48,"hi":1.525,"sig":"*"},{"gene":"Cycs","grp":"HFpEF+TQ+E","v":1.21,"hi":1.35,"sig":"*"},
{"gene":"Apaf1","grp":"Control","v":1.0,"hi":1.0,"sig":""},{"gene":"Apaf1","grp":"HFpEF","v":1.465,"hi":1.52,"sig":"**"},{"gene":"Apaf1","grp":"HFpEF+TQ","v":1.33,"hi":1.345,"sig":"**"},{"gene":"Apaf1","grp":"HFpEF+E","v":1.34,"hi":1.35,"sig":"*"},{"gene":"Apaf1","grp":"HFpEF+TQ+E","v":1.167,"hi":1.175,"sig":"**"},
{"gene":"PICALM","grp":"Control","v":1.0,"hi":1.0,"sig":""},{"gene":"PICALM","grp":"HFpEF","v":0.584,"hi":0.754,"sig":""},{"gene":"PICALM","grp":"HFpEF+TQ","v":0.795,"hi":1.0,"sig":""},{"gene":"PICALM","grp":"HFpEF+E","v":0.74,"hi":0.76,"sig":""},{"gene":"PICALM","grp":"HFpEF+TQ+E","v":0.885,"hi":1.06,"sig":""}
],
"be":[
{"gene":"NF-κB p65","grp":"Control","v":1.0,"hi":1.0,"sig":""},{"gene":"NF-κB p65","grp":"HFpEF","v":1.387,"hi":1.42,"sig":"**"},{"gene":"NF-κB p65","grp":"HFpEF+TQ","v":1.29,"hi":1.32,"sig":"**"},{"gene":"NF-κB p65","grp":"HFpEF+E","v":1.306,"hi":1.32,"sig":""},{"gene":"NF-κB p65","grp":"HFpEF+TQ+E","v":1.17,"hi":1.22,"sig":"**"},
{"gene":"Caspase3","grp":"Control","v":1.0,"hi":1.0,"sig":""},{"gene":"Caspase3","grp":"HFpEF","v":1.74,"hi":1.8,"sig":"**"},{"gene":"Caspase3","grp":"HFpEF+TQ","v":1.48,"hi":1.51,"sig":"*"},{"gene":"Caspase3","grp":"HFpEF+E","v":1.495,"hi":1.55,"sig":"*"},{"gene":"Caspase3","grp":"HFpEF+TQ+E","v":1.23,"hi":1.29,"sig":"*"},
{"gene":"Bax","grp":"Control","v":1.0,"hi":1.0,"sig":""},{"gene":"Bax","grp":"HFpEF","v":1.574,"hi":1.64,"sig":"**"},{"gene":"Bax","grp":"HFpEF+TQ","v":1.383,"hi":1.536,"sig":"*"},{"gene":"Bax","grp":"HFpEF+E","v":1.387,"hi":1.486,"sig":"*"},{"gene":"Bax","grp":"HFpEF+TQ+E","v":1.165,"hi":1.21,"sig":"*"},
{"gene":"Rnf31","grp":"Control","v":1.0,"hi":1.0,"sig":""},{"gene":"Rnf31","grp":"HFpEF","v":0.49,"hi":0.575,"sig":"**"},{"gene":"Rnf31","grp":"HFpEF+TQ","v":0.635,"hi":0.7,"sig":"*"},{"gene":"Rnf31","grp":"HFpEF+E","v":0.655,"hi":0.73,"sig":"*"},{"gene":"Rnf31","grp":"HFpEF+TQ+E","v":0.81,"hi":0.88,"sig":"*"},
{"gene":"IRP1","grp":"Control","v":1.0,"hi":1.0,"sig":""},{"gene":"IRP1","grp":"HFpEF","v":0.57,"hi":0.73,"sig":""},{"gene":"IRP1","grp":"HFpEF+TQ","v":0.72,"hi":0.8,"sig":""},{"gene":"IRP1","grp":"HFpEF+E","v":0.96,"hi":1.315,"sig":""},{"gene":"IRP1","grp":"HFpEF+TQ+E","v":1.42,"hi":1.64,"sig":""},
{"gene":"FTH1","grp":"Control","v":1.0,"hi":1.0,"sig":""},{"gene":"FTH1","grp":"HFpEF","v":0.305,"hi":0.325,"sig":"**"},{"gene":"FTH1","grp":"HFpEF+TQ","v":0.57,"hi":0.685,"sig":""},{"gene":"FTH1","grp":"HFpEF+E","v":0.57,"hi":0.8,"sig":""},{"gene":"FTH1","grp":"HFpEF+TQ+E","v":0.795,"hi":0.995,"sig":""}
]
},
"spacing":45,
"resolve":{"scale":{"color":"independent","fill":"independent","stroke":"independent","strokeWidth":"independent"},"legend":{"color":"independent","fill":"independent","stroke":"independent"}},
"vconcat":[
{
"spacing":20,"bounds":"flush",
"resolve":{"scale":{"color":"independent","fill":"independent","stroke":"independent","strokeWidth":"independent"},"legend":{"color":"independent","fill":"independent","stroke":"independent"}},
"hconcat":[
{
"width":188,"height":290,
"layer":[
{"data":{"name":"vennc"},"mark":{"type":"point","shape":"circle","filled":true,"size":19044,"opacity":1,"strokeWidth":0},
 "encoding":{"x":{"field":"cx","type":"quantitative","scale":{"domain":[-0.855,4.594],"nice":false,"zero":false},"axis":null},
 "y":{"field":"cy","type":"quantitative","scale":{"domain":[-4.145,4.261],"nice":false,"zero":false},"axis":null},
 "fill":{"field":"set","type":"nominal","scale":{"domain":["HFpEF vs Control","HFpEF+TQ+E vs HFpEF"],"range":["#a6c3e8","rgba(255,128,128,0.55)"]},"legend":null}}},
{"data":{"name":"vennt"},"mark":{"type":"text","fontSize":12,"fontWeight":"bold","color":"#111","baseline":"middle","align":"center"},
 "encoding":{"x":{"field":"x","type":"quantitative"},"y":{"field":"y","type":"quantitative"},"text":{"field":"t"}}},
{"data":{"name":"vennn"},"mark":{"type":"text","fontSize":9,"font":"Liberation Serif","color":"#222","baseline":"middle","align":"center"},
 "encoding":{"x":{"field":"x","type":"quantitative"},"y":{"field":"y","type":"quantitative"},"text":{"field":"n"}}},
{"data":{"name":"letters"},"mark":{"type":"text","fontSize":24,"fontWeight":"bold","color":"#111","baseline":"middle","align":"center"},
 "encoding":{"x":{"field":"x","type":"quantitative"},"y":{"field":"y","type":"quantitative"},"text":{"field":"t"}}}
]
},
{
"width":265,"height":345,
"resolve":{"scale":{"x":"independent","y":"independent"}},
"layer":[
{
"data":{"name":"dendro"},
"layer":[
{"mark":{"type":"rule","color":"#222","strokeWidth":1},
 "encoding":{"x":{"field":"h","type":"quantitative","scale":{"domain":[0,47],"range":[46,0],"nice":false,"zero":false},"axis":null},
 "y":{"field":"ya","type":"quantitative","scale":{"domain":[0.5,49.5],"range":[12,345],"nice":false,"zero":false},"axis":null},
 "y2":{"field":"yb"}}},
{"mark":{"type":"rule","color":"#222","strokeWidth":1},
 "encoding":{"x":{"field":"ha","type":"quantitative"},"x2":{"field":"h"},"y":{"field":"ya","type":"quantitative"}}},
{"mark":{"type":"rule","color":"#222","strokeWidth":1},
 "encoding":{"x":{"field":"hb","type":"quantitative"},"x2":{"field":"h"},"y":{"field":"yb","type":"quantitative"}}}
]
},
{
"resolve":{"scale":{"y":"independent","color":"independent","fill":"independent"},"legend":{"color":"independent","fill":"independent"}},
"layer":[
{
"data":{"name":"hm"},
"mark":{"type":"rect"},
"encoding":{
 "x":{"field":"c","type":"nominal","scale":{"domain":["C1","C2","C3","C4","H1","H2","H3","H4","TE1","TE2","TE3","TE4"],"range":[46,265],"paddingInner":0,"paddingOuter":0},"axis":{"orient":"bottom","title":null,"labelAngle":270,"ticks":false,"domain":false,"labelPadding":3,"labelFontSize":13,"labelColor":"#111"}},
 "y":{"field":"r","type":"ordinal","scale":{"range":[12,345],"paddingInner":0,"paddingOuter":0},"axis":{"orient":"right","title":null,"values":[39,41],"labelExpr":"datum.value == 39 ? 'Cycs' : 'Apaf−1'","domain":false,"offset":4,"tickSize":9,"tickColor":"#333","labelPadding":2,"labelFontSize":11,"labelColor":"#333"}},
 "fill":{"field":"v","type":"quantitative","scale":{"domain":[-4,-2,0,2,4],"range":["#1a3fa3","#8a8fcf","#ffffff","#ff8c8c","#ff1010"]},
  "legend":{"title":"mat","orient":"none","legendX":320,"legendY":147,"direction":"vertical","gradientLength":54,"gradientThickness":12,"values":[-4,-2,0,2,4],"labelOverlap":false,"labelFontSize":9,"titleFontSize":9,"titleFontWeight":"bold","titlePadding":4,"labelOffset":2,"labelColor":"#111","titleColor":"#111","gradientStrokeWidth":0}}
}
},
{
"data":{"name":"grp"},
"mark":{"type":"rect"},
"encoding":{
 "x":{"field":"c","type":"nominal"},
 "y":{"datum":"Group","type":"nominal","scale":{"range":[0,10],"paddingInner":0,"paddingOuter":0},"axis":null},
 "color":{"field":"g","type":"nominal","scale":{"domain":["C","H","TE"],"range":["#22b34a","#b2174f","#cacd2e"]},
  "legend":{"title":"Group","orient":"none","legendX":349,"legendY":147,"symbolType":"square","symbolSize":81,"symbolStrokeWidth":0,"labelFontSize":9,"titleFontSize":9,"titleFontWeight":"bold","titlePadding":3,"rowPadding":1.7,"labelOffset":2,"labelColor":"#111","titleColor":"#111"}}
}
},
{
"data":{"values":[{"lab":"Group"}]},
"mark":{"type":"text","align":"left","baseline":"middle","dx":12,"fontSize":9,"fontWeight":"bold","color":"#111"},
"encoding":{
 "x":{"datum":"TE4","type":"nominal"},
 "y":{"datum":"Group","type":"nominal","scale":{"range":[0,10],"paddingInner":0,"paddingOuter":0},"axis":null},
 "text":{"field":"lab"}
}
}
]
}
]
},
{
"width":390,"height":300,
"layer":[
{"data":{"name":"edges"},"mark":{"type":"rule","color":"#a0a0a0"},
 "encoding":{"x":{"field":"x1","type":"quantitative","scale":{"domain":[0,10],"nice":false,"zero":false},"axis":null},
 "y":{"field":"y1","type":"quantitative","scale":{"domain":[0,10],"reverse":true,"nice":false,"zero":false},"axis":null},
 "x2":{"field":"x2"},"y2":{"field":"y2"},
 "strokeWidth":{"field":"n","type":"quantitative","scale":{"domain":[1,3],"range":[1.4,2.8]},"legend":null}}},
{"data":{"name":"nodes"},"mark":{"type":"point","shape":"circle","filled":true,"size":2330,"color":"#48c9b0","opacity":1,"strokeWidth":0},
 "encoding":{"x":{"field":"x","type":"quantitative"},"y":{"field":"y","type":"quantitative"}}},
{"data":{"name":"box"},"mark":{"type":"rect","filled":false,"stroke":"#e8202a","strokeWidth":1.5},
 "encoding":{"x":{"field":"x1","type":"quantitative"},"x2":{"field":"x2"},"y":{"field":"y1","type":"quantitative"},"y2":{"field":"y2"}}},
{"data":{"name":"nodes"},"mark":{"type":"text","fontSize":19,"baseline":"middle","align":"center","dy":1},
 "encoding":{"x":{"field":"x","type":"quantitative"},"y":{"field":"y","type":"quantitative"},"text":{"field":"name"},
 "color":{"condition":{"test":"datum.hub","value":"#ff1a1a"},"value":"#1f2a2a"}}},
{"data":{"name":"cl"},"mark":{"type":"text","fontSize":24,"fontWeight":"bold","color":"#111","baseline":"middle","align":"center"},
 "encoding":{"x":{"field":"x","type":"quantitative"},"y":{"field":"y","type":"quantitative"},"text":{"field":"t"}}}
]
}
]
},
{
"spacing":199,"bounds":"flush",
"resolve":{"scale":{"fill":"independent","stroke":"independent"},"legend":{"fill":"independent","stroke":"independent"}},
"hconcat":[
{
"width":297,"height":258,
"title":{"text":"D","anchor":"start","frame":"group","dx":-79,"offset":-46,"baseline":"alphabetic","fontSize":24,"fontWeight":"bold","color":"#111"},
"data":{"name":"bd"},
"encoding":{
 "y":{"field":"gene","type":"nominal","sort":["Naalad2-n","CALCRL","Bcl-2","Cycs","Apaf1","PICALM"],"scale":{"paddingInner":0.19,"paddingOuter":0.095},"axis":{"title":null,"labelFontSize":16,"labelFontWeight":"bold","labelColor":"#111","tickSize":7,"tickWidth":1.5,"tickColor":"#111","domainWidth":1.5,"domainColor":"#111","labelPadding":2}},
 "yOffset":{"field":"grp","type":"nominal","sort":["HFpEF+TQ+E","HFpEF+E","HFpEF+TQ","HFpEF","Control"],"scale":{"paddingInner":0.41,"paddingOuter":0}}
},
"layer":[
{"mark":{"type":"bar","strokeWidth":1.3},
 "encoding":{"x":{"field":"v","type":"quantitative","scale":{"domain":[0,2],"nice":false},"axis":{"title":"Relative Expression of mRNA","values":[0,0.5,1,1.5,2],"format":".1f","labelFontSize":15,"labelFontWeight":"bold","labelColor":"#111","titleFontSize":16,"titleFontWeight":"bold","titleColor":"#111","titlePadding":12,"tickSize":5,"tickWidth":1.5,"tickColor":"#111","domainWidth":1.5,"domainColor":"#111","labelPadding":7}},
 "fill":{"field":"grp","type":"nominal","scale":{"domain":["Control","HFpEF","HFpEF+TQ","HFpEF+E","HFpEF+TQ+E"],"range":["#ffd6d6","#f0dcf5","#cdf0d2","#ffd8bf","#d4e0f4"]},
  "legend":{"title":null,"orient":"none","legendX":270,"legendY":-38,"symbolType":"M-1.6,-0.3L1.6,-0.3L1.6,0.3L-1.6,0.3Z","symbolSize":189,"symbolStrokeWidth":1.5,"labelFontSize":11,"labelFontWeight":"bold","labelColor":"#111","labelOffset":16,"rowPadding":1}},
 "stroke":{"field":"grp","type":"nominal","scale":{"domain":["Control","HFpEF","HFpEF+TQ","HFpEF+E","HFpEF+TQ+E"],"range":["#ff4040","#b768cf","#33c24a","#ff8a3d","#3d6fc2"]},
  "legend":{"title":null,"orient":"none","legendX":270,"legendY":-38,"symbolType":"M-1.6,-0.3L1.6,-0.3L1.6,0.3L-1.6,0.3Z","symbolSize":189,"symbolStrokeWidth":1.5,"labelFontSize":11,"labelFontWeight":"bold","labelColor":"#111","labelOffset":16,"rowPadding":1}}}},
{"transform":[{"filter":"datum.hi > datum.v"}],"mark":{"type":"rule","color":"#222","strokeWidth":1.3},
 "encoding":{"x":{"field":"v","type":"quantitative"},"x2":{"field":"hi"}}},
{"transform":[{"filter":"datum.hi > datum.v"}],"mark":{"type":"tick","orient":"vertical","color":"#222","size":4,"thickness":1.3},
 "encoding":{"x":{"field":"hi","type":"quantitative"}}},
{"mark":{"type":"text","align":"left","baseline":"middle","dx":5,"dy":4,"fontSize":18,"fontWeight":"bold","color":"#111"},
 "encoding":{"x":{"field":"hi","type":"quantitative"},"text":{"field":"sig"}}}
]
},
{
"width":296,"height":258,
"title":{"text":"E","anchor":"start","frame":"group","dx":-88,"offset":-50,"baseline":"alphabetic","fontSize":24,"fontWeight":"bold","color":"#111"},
"data":{"name":"be"},
"encoding":{
 "y":{"field":"gene","type":"nominal","sort":["NF-κB p65","Caspase3","Bax","Rnf31","IRP1","FTH1"],"scale":{"paddingInner":0.19,"paddingOuter":0.095},"axis":{"title":null,"labelFontSize":16,"labelFontWeight":"bold","labelColor":"#111","tickSize":7,"tickWidth":1.5,"tickColor":"#111","domainWidth":1.5,"domainColor":"#111","labelPadding":2}},
 "yOffset":{"field":"grp","type":"nominal","sort":["HFpEF+TQ+E","HFpEF+E","HFpEF+TQ","HFpEF","Control"],"scale":{"paddingInner":0.41,"paddingOuter":0}}
},
"layer":[
{"mark":{"type":"bar","strokeWidth":1.3},
 "encoding":{"x":{"field":"v","type":"quantitative","scale":{"domain":[0,2],"nice":false},"axis":{"title":"Relative Expression of mRNA","values":[0,0.5,1,1.5,2],"format":".1f","labelFontSize":15,"labelFontWeight":"bold","labelColor":"#111","titleFontSize":16,"titleFontWeight":"bold","titleColor":"#111","titlePadding":12,"tickSize":5,"tickWidth":1.5,"tickColor":"#111","domainWidth":1.5,"domainColor":"#111","labelPadding":7}},
 "fill":{"field":"grp","type":"nominal","scale":{"domain":["Control","HFpEF","HFpEF+TQ","HFpEF+E","HFpEF+TQ+E"],"range":["#ffd6d6","#f0dcf5","#cdf0d2","#ffd8bf","#d4e0f4"]},
  "legend":{"title":null,"orient":"none","legendX":277,"legendY":-41,"symbolType":"M-1.6,-0.3L1.6,-0.3L1.6,0.3L-1.6,0.3Z","symbolSize":189,"symbolStrokeWidth":1.5,"labelFontSize":11,"labelFontWeight":"bold","labelColor":"#111","labelOffset":15,"rowPadding":3}},
 "stroke":{"field":"grp","type":"nominal","scale":{"domain":["Control","HFpEF","HFpEF+TQ","HFpEF+E","HFpEF+TQ+E"],"range":["#ff4040","#b768cf","#33c24a","#ff8a3d","#3d6fc2"]},
  "legend":{"title":null,"orient":"none","legendX":277,"legendY":-41,"symbolType":"M-1.6,-0.3L1.6,-0.3L1.6,0.3L-1.6,0.3Z","symbolSize":189,"symbolStrokeWidth":1.5,"labelFontSize":11,"labelFontWeight":"bold","labelColor":"#111","labelOffset":15,"rowPadding":3}}}},
{"transform":[{"filter":"datum.hi > datum.v"}],"mark":{"type":"rule","color":"#222","strokeWidth":1.3},
 "encoding":{"x":{"field":"v","type":"quantitative"},"x2":{"field":"hi"}}},
{"transform":[{"filter":"datum.hi > datum.v"}],"mark":{"type":"tick","orient":"vertical","color":"#222","size":4,"thickness":1.3},
 "encoding":{"x":{"field":"hi","type":"quantitative"}}},
{"mark":{"type":"text","align":"left","baseline":"middle","dx":5,"dy":4,"fontSize":18,"fontWeight":"bold","color":"#111"},
 "encoding":{"x":{"field":"hi","type":"quantitative"},"text":{"field":"sig"}}}
]
}
]
}
]
}
